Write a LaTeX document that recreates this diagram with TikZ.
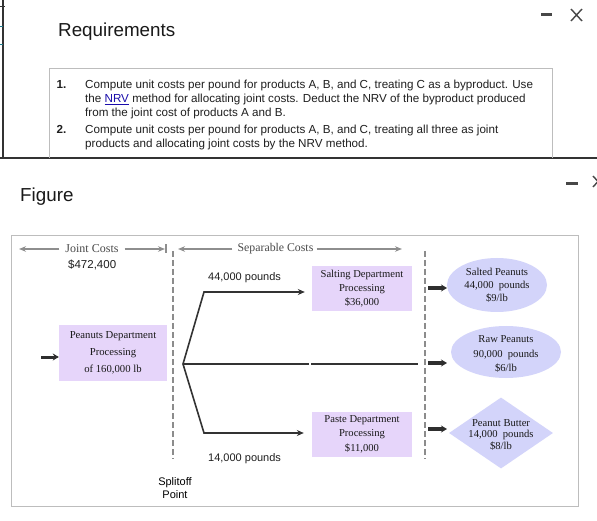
\documentclass[tikz,border=0pt]{standalone}
\usepackage{fontspec}
\setmainfont{Liberation Serif}
\newfontfamily\arial{Liberation Sans}
\usetikzlibrary{arrows.meta,shapes.geometric}
\definecolor{boxfill}{HTML}{E6D5FA}
\definecolor{prodfill}{HTML}{D3D4FA}
\definecolor{framegray}{HTML}{BDBDBD}
\definecolor{hdrgray}{HTML}{8E8E8E}
\definecolor{hdrtext}{HTML}{4A4A4A}
\definecolor{linkblue}{HTML}{1A0DAB}
\definecolor{chrome}{HTML}{333333}
\definecolor{tealmark}{HTML}{1F7A8C}
\tikzset{
  sans/.style={font=\arial\fontsize{11.65}{14}\selectfont, inner sep=0, anchor=base west, text=black!88},
  title/.style={font=\arial\fontsize{18.8}{20}\selectfont, inner sep=0, anchor=base west, text=black!90},
  serif/.style={inner sep=0, align=center, text=black!90},
  dept/.style={fill=boxfill, inner sep=0, minimum width=100, minimum height=45, align=center, text=black!90},
  prod/.style={fill=prodfill, inner sep=0},
  hdr/.style={draw=hdrgray, line width=1.5pt, -{Stealth[length=7pt,width=5.5pt]}},
  conn/.style={draw=black!80, line width=1.6pt},
  connarrow/.style={conn, -{Stealth[length=7pt,width=6pt]}},
  inarrow/.style={draw=black!82, line width=3.2pt, -{Stealth[length=6pt,width=7pt]}},
  divider/.style={draw=black!45, line width=1.5pt, dash pattern=on 6pt off 3pt},
}
\begin{document}
\begin{tikzpicture}[x=1pt,y=-1pt]
\useasboundingbox (0,0) rectangle (597,521);
\fill[white] (0,0) rectangle (597,521);

% ---------- window chrome ----------
\draw[chrome, line width=1.3pt] (3,0) -- (3,158);
\draw[chrome, line width=1pt] (0,7) -- (5,7);
\draw[tealmark, line width=1pt] (0,27) -- (3,27);
\draw[tealmark, line width=1pt] (0,45) -- (3,45);
\draw[chrome, line width=1.6pt] (0,158) -- (597,158);
\draw[black!72, line width=3pt] (541,15) -- (552,15);
\draw[black!72, line width=1.4pt] (571,9) -- (582,21) (582,9) -- (571,21);
\draw[black!72, line width=3pt] (566,184) -- (578,184);
\draw[black!72, line width=1.4pt] (593,176) -- (603,187) (603,176) -- (593,187);

% ---------- Requirements ----------
\node[title] (reqtitle) at (58,36.5) {Requirements};
\draw[framegray, line width=1pt] (49.5,158) -- (49.5,69) -- (552,69) -- (552,158);
\node[sans, font=\arial\bfseries\fontsize{11.65}{14}\selectfont] (n1) at (56.5,88.5) {1.};
\node[sans] (r1a) at (85,88.5) {Compute unit costs per pound for products A, B, and C, treating C as a byproduct. Use};
\node[sans] (r1b) at (85,102.5) {the \textcolor{linkblue}{\underline{NRV}} method for allocating joint costs. Deduct the NRV of the byproduct produced};
\node[sans] (r1c) at (85,117) {from the joint cost of products A and B.};
\node[sans, font=\arial\bfseries\fontsize{11.65}{14}\selectfont] (n2) at (56.5,134) {2.};
\node[sans] (r2a) at (85,134) {Compute unit costs per pound for products A, B, and C, treating all three as joint};
\node[sans] (r2b) at (85,147.5) {products and allocating joint costs by the NRV method.};

% ---------- Figure ----------
\node[title] (figtitle) at (20,202) {Figure};
\draw[framegray, line width=1pt] (11,236) rectangle (578,506);

% header arrows
\node[serif, text=hdrtext, font=\fontsize{12}{13}\selectfont] (joint) at (92,249) {Joint Costs};
\draw[hdr] (joint.west) ++(-6,0) -- (19,249);
\draw[hdr] (joint.east) ++(6,0) -- (165,249);
\draw[hdrgray, line width=1.3pt] (166,244.5) -- (166,253.5);
\node[serif, text=hdrtext, font=\fontsize{11.8}{13}\selectfont] (sep) at (275.5,249) {Separable Costs};
\draw[hdr] (sep.west) ++(-5,0) -- (178,249);
\draw[hdr] (sep.east) ++(3,0) -- (402,249);

\node[sans, font=\arial\fontsize{11.5}{14}\selectfont] (jc) at (68,269) {\$472,400};

% dividers
\coordinate (d1top) at (173,251);
\coordinate (d1bot) at (173,459);
\coordinate (d2top) at (425,251);
\coordinate (d2bot) at (425,459);
\draw[divider] (d1top) -- (d1bot);
\draw[divider] (d2top) -- (d2bot);

% departments
\node[dept, minimum width=108, minimum height=56, font=\fontsize{10.7}{17}\selectfont] (peanuts) at (113,353) {Peanuts Department\\Processing\\of 160,000 lb};
\node[dept, font=\fontsize{10.6}{14}\selectfont] (salting) at (362,288.5) {Salting Department\\Processing\\\$36,000};
\node[dept, font=\fontsize{10.6}{14.5}\selectfont] (paste) at (362,434) {Paste Department\\Processing\\\$11,000};

\coordinate (inA) at (41,357);
\draw[inarrow, line width=3pt] (inA) -- (peanuts.west |- inA);

% splitoff connectors
\coordinate (split) at (183,364);
\coordinate (up) at (204,292);
\coordinate (down) at (204,433);
\coordinate (gapA) at (309,364);
\coordinate (gapB) at (311,364);
\coordinate (midend) at (418,364);
\draw[connarrow, shorten >=7pt] (split) -- (up) -- (up -| salting.west);
\draw[connarrow, shorten >=8pt] (split) -- (down) -- (down -| paste.west);
\draw[conn] (split) -- (gapA);
\draw[conn] (gapB) -- (midend);

\node[sans, font=\arial\fontsize{11}{14}\selectfont] (lb44) at (208,281) {44,000 pounds};
\node[sans, font=\arial\fontsize{11}{14}\selectfont] (lb14) at (208,461) {14,000 pounds};
\node[serif, font=\arial\fontsize{11}{13}\selectfont, text=black] (splitoff) at (175,488) {Splitoff\\Point};

% products
\node[prod, ellipse, minimum width=100, minimum height=54] (salted) at (497,285) {};
\node[serif, font=\fontsize{10.6}{13}\selectfont] (saltedt) at (salted.center) {Salted Peanuts\\44,000\ \ pounds\\\$9/lb};
\node[prod, ellipse, minimum width=110, minimum height=52] (raw) at (506,352) {};
\node[serif, font=\fontsize{10.6}{14.5}\selectfont] (rawt) at (506,354) {Raw Peanuts\\90,000\ \ pounds\\\$6/lb};
\node[prod, diamond, minimum width=104, minimum height=71] (butter) at (501,433) {};
\node[serif, font=\fontsize{10.6}{11.5}\selectfont] (buttert) at (501,434.5) {Peanut Butter\\14,000\ \ pounds\\\$8/lb};

% short arrows into products
\coordinate (a1) at (428,288);
\coordinate (a2) at (428,363);
\coordinate (a3) at (428,429);
\draw[inarrow] (a1) -- (447,288);
\draw[inarrow] (a2) -- (447,363);
\draw[inarrow] (a3) -- (447,429);
\end{tikzpicture}
\end{document}
